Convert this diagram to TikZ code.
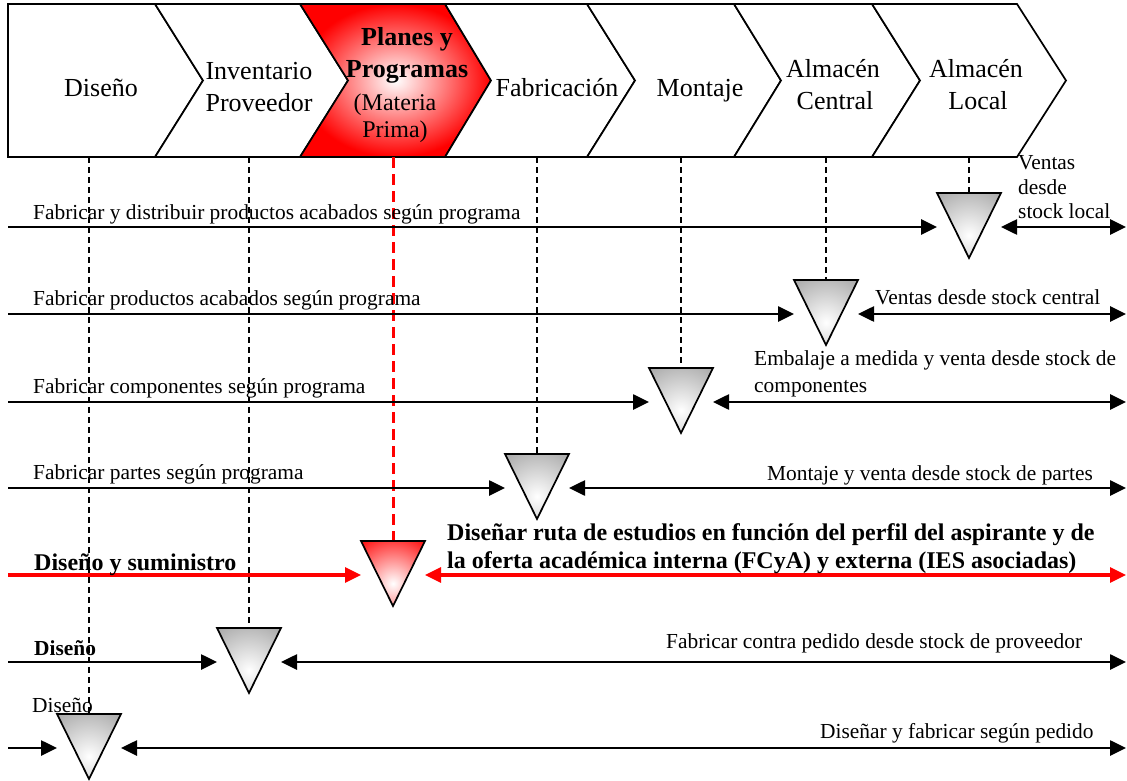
\documentclass[tikz,border=0pt]{standalone}
\usepackage{fontspec}
\setmainfont{Liberation Serif}
\usetikzlibrary{arrows.meta,calc}
\newcommand\shadetri[2]{%
  \begin{scope}
    \clip (#1.north west) -- (#1.north east) -- (#1.south) -- cycle;
    \shade[inner color=white, outer color=#2] ($(#1.center)+(0,10)$) circle (56);
  \end{scope}
  \draw[triline] (#1.north west) -- (#1.north east) -- (#1.south) -- cycle;
}
\begin{document}
\begin{tikzpicture}[x=1pt,y=-1pt,
  chev/.style={draw=black, line width=1.7pt, line join=miter, fill=white},
  hdr/.style={font=\fontsize{26}{30}\selectfont, anchor=base, inner sep=0pt},
  hdrb/.style={font=\bfseries\fontsize{26}{30}\selectfont, anchor=base, inner sep=0pt},
  hdrs/.style={font=\fontsize{24}{28}\selectfont, anchor=base, inner sep=0pt},
  lbl/.style={font=\fontsize{21.4}{24}\selectfont, anchor=base west, inner sep=0pt},
  lblb/.style={font=\bfseries\fontsize{21.4}{24}\selectfont, anchor=base west, inner sep=0pt},
  lblB/.style={font=\bfseries\fontsize{24}{28}\selectfont, anchor=base west, inner sep=0pt},
  tribox/.style={minimum width=64pt, minimum height=65pt, inner sep=0pt, outer sep=0pt},
  triline/.style={draw=black, line width=1.7pt, line join=miter},
  arr/.style={line width=2.6pt, -{Triangle[length=16pt,width=15pt]}},
  darr/.style={line width=2.6pt, {Triangle[length=16pt,width=15pt]}-{Triangle[length=16pt,width=15pt]}},
  rarr/.style={draw=red, line width=3.2pt, -{Triangle[length=16pt,width=15pt]}},
  rdarr/.style={draw=red, line width=3.2pt, {Triangle[length=16pt,width=15pt]}-{Triangle[length=16pt,width=15pt]}},
  vdash/.style={line width=1.7pt, dash pattern=on 6pt off 4pt},
  rdash/.style={draw=red, line width=3pt, dash pattern=on 11pt off 6pt}
]
\useasboundingbox (0,0) rectangle (1127,781);

% ---------- header chevrons ----------
\path[chev] (8,4) -- (155,4) -- (203,80.5) -- (155,157) -- (8,157) -- cycle;
\path[chev] (155,4) -- (300,4) -- (348,80.5) -- (300,157) -- (155,157) -- (203,80.5) -- cycle;
\shadedraw[inner color=white, outer color=red, draw=black, line width=1.7pt, line join=miter]
  (300,4) -- (445,4) -- (491,80.5) -- (445,157) -- (300,157) -- (348,80.5) -- cycle;
\path[chev] (445,4) -- (587,4) -- (635,80.5) -- (587,157) -- (445,157) -- (491,80.5) -- cycle;
\path[chev] (587,4) -- (734,4) -- (781,80.5) -- (734,157) -- (587,157) -- (635,80.5) -- cycle;
\path[chev] (734,4) -- (872,4) -- (920,80.5) -- (872,157) -- (734,157) -- (781,80.5) -- cycle;
\path[chev] (872,4) -- (1017,4) -- (1066,80.5) -- (1017,157) -- (872,157) -- (920,80.5) -- cycle;

\node[hdr] (h1) at (101,97) {Diseño};
\node[hdr] (h2a) at (259,80) {Inventario};
\node[hdr] (h2b) at (259,112) {Proveedor};
\node[hdrb] (h3a) at (407,46) {Planes y};
\node[hdrb] (h3b) at (407,78) {Programas};
\node[hdrs] (h3c) at (395,111) {(Materia};
\node[hdrs] (h3d) at (395,138) {Prima)};
\node[hdr] (h4) at (557,97) {Fabricación};
\node[hdr] (h5) at (700,97) {Montaje};
\node[hdr] (h6a) at (833,78) {Almacén};
\node[hdr] (h6b) at (835,110) {Central};
\node[hdr] (h7a) at (976,78) {Almacén};
\node[hdr] (h7b) at (978,110) {Local};

% ---------- anchor points ----------
\coordinate (D1) at (969,157);
\coordinate (D2) at (826,157);
\coordinate (D3) at (681,157);
\coordinate (D4) at (537,157);
\coordinate (D5) at (393,157);
\coordinate (D6) at (249,157);
\coordinate (D7) at (89,157);

\coordinate (L1) at (8,227);   \coordinate (R1) at (1126,227);
\coordinate (L2) at (8,314);   \coordinate (R2) at (1126,314);
\coordinate (L3) at (8,402);   \coordinate (R3) at (1126,402);
\coordinate (L4) at (8,488);   \coordinate (R4) at (1126,488);
\coordinate (L5) at (8,575);   \coordinate (R5) at (1126,575);
\coordinate (L6) at (8,662);   \coordinate (R6) at (1126,662);
\coordinate (L7) at (8,748);   \coordinate (R7) at (1126,748);

% ---------- inventory triangles (nodes) ----------
\node[tribox] (T1) at (969,225.5) {};
\node[tribox] (T2) at (826,312.5) {};
\node[tribox] (T3) at (681,400.5) {};
\node[tribox] (T4) at (537,486.5) {};
\node[tribox] (T5) at (393,573.5) {};
\node[tribox] (T6) at (249,660.5) {};
\node[tribox] (T7) at (89,746.5) {};

% ---------- dashed decoupling lines ----------
\draw[vdash] (D1) -- (T1.north);
\draw[vdash] (D2) -- (T2.north);
\draw[vdash] (D3) -- (T3.north);
\draw[vdash] (D4) -- (T4.north);
\draw[rdash] (D5) -- (T5.north);
\draw[vdash] (D6) -- (T6.north);
\draw[vdash] (D7) -- (T7.north);

% ---------- flow arrows ----------
\draw[arr] (L1) -- (T1.west |- L1);
\draw[darr] (T1.east |- R1) -- (R1);
\draw[arr] (L2) -- (T2.west |- L2);
\draw[darr] (T2.east |- R2) -- (R2);
\draw[arr] (L3) -- (T3.west |- L3);
\draw[darr] (T3.east |- R3) -- (R3);
\draw[arr] (L4) -- (T4.west |- L4);
\draw[darr] (T4.east |- R4) -- (R4);
\draw[rarr] (L5) -- (T5.west |- L5);
\draw[rdarr] (T5.east |- R5) -- (R5);
\draw[arr] (L6) -- (T6.west |- L6);
\draw[darr] (T6.east |- R6) -- (R6);
\draw[arr] (L7) -- (T7.west |- L7);
\draw[darr] (T7.east |- R7) -- (R7);

% ---------- triangle drawings ----------
\shadetri{T1}{gray!72}
\shadetri{T2}{gray!72}
\shadetri{T3}{gray!72}
\shadetri{T4}{gray!72}
\shadetri{T5}{red}
\shadetri{T6}{gray!72}
\shadetri{T7}{gray!72}

% ---------- labels ----------
\node[lbl] (l1) at (33,219) {Fabricar y distribuir productos acabados según programa};
\node[lbl] (l2) at (33,305) {Fabricar productos acabados según programa};
\node[lbl] (l3) at (33,393) {Fabricar componentes según programa};
\node[lbl] (l4) at (33,479) {Fabricar partes según programa};
\node[lblB] (l5) at (34,570) {Diseño y suministro};
\node[lblb] (l6) at (34,655) {Diseño};
\node[lbl] (l7) at (32,712) {Diseño};

\node[lbl] (r1a) at (1018,169) {Ventas};
\node[lbl] (r1b) at (1018,194) {desde};
\node[lbl] (r1c) at (1018,218) {stock local};
\node[lbl] (r2) at (875,304) {Ventas desde stock central};
\node[lbl] (r3a) at (754,365) {Embalaje a medida y venta desde stock de};
\node[lbl] (r3b) at (754,392) {componentes};
\node[lbl] (r4) at (767,480) {Montaje y venta desde stock de partes};
\node[lblB] (r5a) at (447,540) {Diseñar ruta de estudios en función del perfil del aspirante y de};
\node[lblB] (r5b) at (447,568) {la oferta académica interna (FCyA) y externa (IES asociadas)};
\node[lbl] (r6) at (666,648) {Fabricar contra pedido desde stock de proveedor};
\node[lbl] (r7) at (820,738) {Diseñar y fabricar según pedido};
\end{tikzpicture}
\end{document}
